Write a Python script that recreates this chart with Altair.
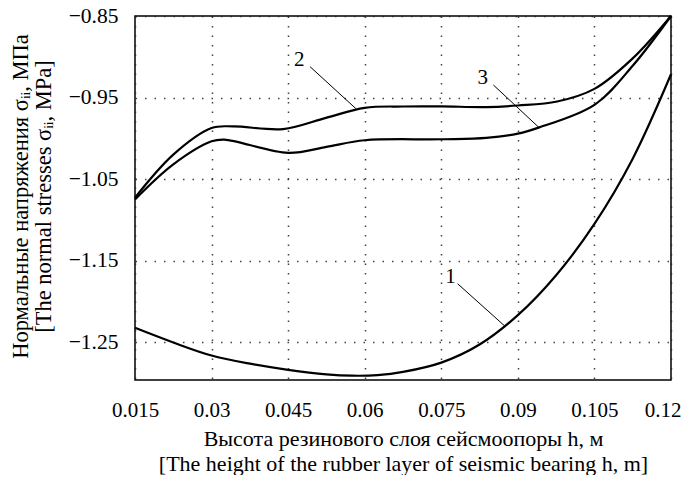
import altair as alt
import pandas as pd

# curve 1
x1 = [0.015, 0.0225, 0.03, 0.0375, 0.045, 0.0525, 0.0575, 0.0625, 0.0675, 0.075, 0.0825, 0.09, 0.0975, 0.105, 0.1125, 0.12]
y1 = [-1.2325, -1.2505, -1.2665, -1.2765, -1.2840, -1.2895, -1.2912, -1.2905, -1.2866, -1.2752, -1.2530, -1.2170, -1.1680, -1.1050, -1.0250, -0.9215]
# curve 2
x2 = [0.015, 0.0225, 0.03, 0.0343, 0.044, 0.0524, 0.06, 0.0675, 0.075, 0.0838, 0.09, 0.0977, 0.105, 0.1125, 0.12]
y2 = [-1.0728, -1.0200, -0.9874, -0.9854, -0.9887, -0.9750, -0.9626, -0.9610, -0.9609, -0.9617, -0.9598, -0.9549, -0.9394, -0.9020, -0.8500]
# curve 3
x3 = [0.015, 0.0225, 0.03, 0.0325, 0.045, 0.0525, 0.06, 0.075, 0.0838, 0.09, 0.0942, 0.105, 0.1125, 0.12]
y3 = [-1.0750, -1.0320, -1.0037, -1.0016, -1.0179, -1.0105, -1.0024, -1.0012, -0.9996, -0.9943, -0.9866, -0.9590, -0.9110, -0.8500]

label_text = ["1", "2", "3"]
label_x = [0.0768, 0.0472, 0.0831]
label_y = [-1.1704, -0.9040, -0.9265]
lead_x1 = [0.0782, 0.0493, 0.0852]
lead_y1 = [-1.1784, -0.9122, -0.9346]
lead_x2 = [0.0874, 0.0583, 0.0941]
lead_y2 = [-1.2301, -0.9638, -0.9866]

x_ticks = [0.015, 0.03, 0.045, 0.06, 0.075, 0.09, 0.105, 0.12]
y_ticks = [-0.85, -0.95, -1.05, -1.15, -1.25]

FONT = "Liberation Serif"

rows = []
for s, xs_, ys_ in (("1", x1, y1), ("2", x2, y2), ("3", x3, y3)):
    for a, b in zip(xs_, ys_):
        rows.append({"s": s, "x": a, "y": b})
curves = pd.DataFrame(rows)
labels = pd.DataFrame({"t": label_text, "x": label_x, "y": label_y})
leaders = pd.DataFrame({"x": lead_x1, "y": lead_y1, "x2": lead_x2, "y2": lead_y2})

xs = alt.Scale(domain=[0.015, 0.12], nice=False, zero=False)
ys = alt.Scale(domain=[-1.2965, -0.85], nice=False, zero=False)

x_axis = alt.Axis(
    values=x_ticks, format=".3~f", ticks=False, domain=False,
    grid=True, gridColor="#222", gridDash=[1.5, 8], gridWidth=1.5, gridOpacity=0.85,
    labelFont=FONT, labelFontSize=21, labelColor="#000", labelPadding=19,
    labelAlign=alt.ExprRef(expr="datum.value > 0.119 ? 'right' : 'center'"),
    labelOffset=alt.ExprRef(expr="datum.value > 0.119 ? 10 : 0"),
    labelFlush=False, labelOverlap=False,
    title=["Высота резинового слоя сейсмоопоры h, м",
           "[The height of the rubber layer of seismic bearing h, m]"],
    titleFont=FONT, titleFontSize=22, titleFontWeight="normal", titleColor="#000",
    titleLineHeight=25, titlePadding=8,
)
y_axis = alt.Axis(
    values=y_ticks, format=".2f", ticks=False, domain=False,
    grid=True, gridColor="#222", gridDash=[1.5, 8], gridWidth=1.5, gridOpacity=0.85,
    labelFont=FONT, labelFontSize=21.5, labelColor="#000", labelPadding=17,
    labelFlush=False, labelOverlap=False,
    title=["Нормальные напряжения σᵢᵢ, МПа", "[The normal stresses σᵢᵢ, MPa]"],
    titleFont=FONT, titleFontSize=22.5, titleFontWeight="normal", titleColor="#000",
    titleLineHeight=23, titleX=-126, titleY=180, titleBaseline="top", titleAngle=-90,
    titleAlign="center",
)

base = alt.Chart(curves)
lines = base.mark_line(color="#000", strokeWidth=2.2, interpolate="catmull-rom").encode(
    x=alt.X("x:Q", scale=xs, axis=x_axis),
    y=alt.Y("y:Q", scale=ys, axis=y_axis),
    detail="s:N",
)
leader = alt.Chart(leaders).mark_rule(color="#000", strokeWidth=1).encode(
    x="x:Q", y="y:Q", x2="x2:Q", y2="y2:Q"
)
text = alt.Chart(labels).mark_text(font=FONT, fontSize=21, color="#000").encode(
    x="x:Q", y="y:Q", text="t:N"
)

chart = alt.layer(lines, leader, text).properties(
    width=536, height=364,
    autosize=alt.AutoSizeParams(type="none"),
    padding={"left": 127, "top": 8, "right": 10, "bottom": 95},
).configure_view(stroke="#000", strokeWidth=1.5)

chart.save("out.html", embed_options={"renderer": "svg", "actions": False})
